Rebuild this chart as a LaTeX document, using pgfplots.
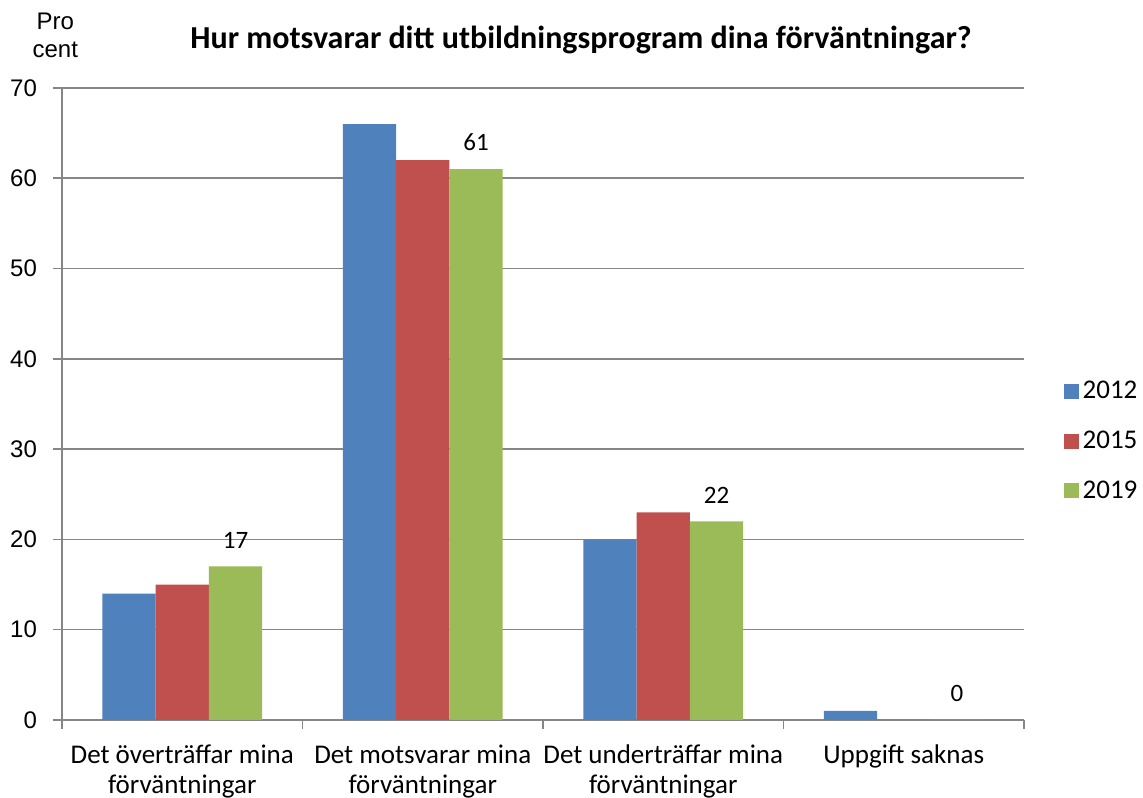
\documentclass[border=0pt]{standalone}
\usepackage{pgfplots}
\pgfplotsset{compat=1.18}
\usepackage{fontspec}
\setmainfont{Carlito}
\newfontfamily\arial{Liberation Sans}
\definecolor{c12}{HTML}{4F81BD}
\definecolor{c15}{HTML}{C0504D}
\definecolor{c19}{HTML}{9BBB59}
\definecolor{gridc}{HTML}{868686}
\begin{document}
\begin{tikzpicture}
\begin{axis}[
  scale only axis,
  width=481pt, height=316pt,
  xmin=-0.5, xmax=3.5,
  ymin=0, ymax=70,
  ytick={0,10,...,70},
  xtick={0,1,2,3},
  xticklabels={{Det överträffar mina\\förväntningar},{Det motsvarar mina\\förväntningar},{Det underträffar mina\\förväntningar},{Uppgift saknas}},
  xticklabel style={align=center, font=\fontsize{13.5}{15}\selectfont, yshift=-4.3pt},
  major x tick style={draw=none},
  minor xtick={-0.5,0.5,1.5,2.5,3.5},
  minor x tick style={draw=gridc, thick},
  tick align=outside,
  major tick length=4.5pt, minor tick length=4.5pt,
  y tick style={draw=gridc, thick},
  yticklabel style={font=\arial\fontsize{12}{14}\selectfont, xshift=-4.5pt},
  /pgf/number format/assume math mode=true,
  ymajorgrids,
  grid style={draw=gridc, thick},
  axis line style={draw=gridc, thick},
  axis x line*=bottom,
  axis y line*=left,
  ybar=0pt,
  bar width=26.65pt,
  legend style={draw=none, fill=none, at={(rel axis cs:1.041,0.543)}, anchor=north west,
    font=\fontsize{13.5}{16}\selectfont, row sep=10.6pt, inner sep=0pt},
  legend cell align=left,
  legend image code/.code={\fill[#1] (0pt,-3.7pt) rectangle (7.4pt,3.7pt);},
  clip=false,
]
\addplot[fill=c12, draw=none] coordinates {(0,14) (1,66) (2,20) (3,1)};
\addlegendentry{2012}
\addplot[fill=c15, draw=none] coordinates {(0,15) (1,62) (2,23) (3,0)};
\addlegendentry{2015}
\addplot[fill=c19, draw=none, nodes near coords, every node near coord/.append style={font=\fontsize{12.5}{14}\selectfont, black, yshift=5.5pt}] coordinates {(0,17) (1,61) (2,22) (3,0)};
\addlegendentry{2019}
\node[font=\bfseries\fontsize{16}{19}\selectfont] at (rel axis cs:0.5395,1.076) {Hur motsvarar ditt utbildningsprogram dina förväntningar?};
\node[font=\arial\fontsize{12}{14}\selectfont, align=center] at (rel axis cs:-0.007,1.083) {Pro\\cent};
\coordinate (BL) at (rel axis cs:-0.06445,-0.1234);
\coordinate (TR) at (rel axis cs:1.1237,1.1392);
\end{axis}
\pgfresetboundingbox
\path[use as bounding box] (BL) rectangle (TR);
\end{tikzpicture}
\end{document}
